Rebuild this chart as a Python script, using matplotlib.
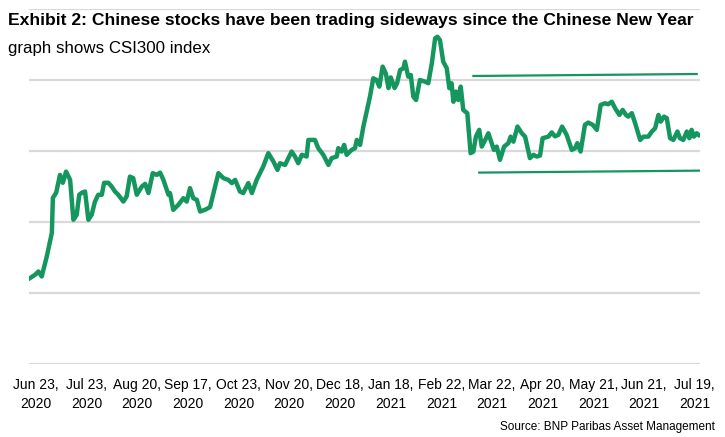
import matplotlib
matplotlib.use("Agg")
import matplotlib.pyplot as plt
from matplotlib import font_manager as fm
import numpy as np

# ---- data ----
# trading-day index since Jun 23, 2020 and CSI300 level
days = [0, 2.0, 3.3, 4.6, 6.6, 8.6, 9.0, 10.3, 11.8, 12.9, 14.2, 15.8, 17.1, 18.4, 19.4,
        20.4, 21.7, 23.0, 24.3, 25.6, 26.9, 28.3, 29.2, 30.9, 32.2, 33.5, 34.8, 36.8,
        38.1, 39.4, 40.7, 42.1, 44.1, 45.4, 46.7, 48.4, 50.0, 51.3, 52.6, 54.6, 55.2,
        56.5, 58.5, 60.5, 61.8, 63.1, 64.4, 65.8, 67.1, 69.0, 71.0, 74.3, 76.3, 78.2,
        79.6, 80.9, 82.8, 84.1, 86.1, 87.5, 89.4, 92.0, 94.0, 96.0, 97.6, 98.6, 100.6,
        103.2, 104.5, 105.8, 107.2, 109.1, 109.8, 112.4, 113.7, 115.7, 117.7, 119.0,
        121.0, 121.6, 122.9, 123.9, 124.9, 126.9, 128.2, 128.9, 130.2, 131.5, 132.8,
        134.1, 135.4, 136.7, 137.8, 139.1, 140.4, 141.4, 142.3, 143.8, 144.8, 146.0,
        147.3, 147.9, 149.2, 150.2, 151.2, 152.3, 153.8, 155.8, 157.1, 158.5, 159.8,
        160.7, 161.7, 163.0, 164.4, 165.4, 166.3, 167.0, 168.0, 168.9, 169.9, 170.9,
        172.5, 173.8, 174.9, 175.9, 177.2, 178.2, 179.9, 180.8, 182.1, 183.0, 184.1,
        185.4, 187.0, 188.7, 189.6, 190.7, 192.3, 194.0, 195.3, 197.2, 198.6, 199.9,
        201.2, 202.2, 204.5, 205.8, 207.1, 208.4, 209.9, 211.7, 213.7, 215.0, 215.9,
        217.2, 218.9, 220.2, 222.0, 223.6, 225.1, 226.8, 228.1, 229.5, 230.8, 232.5,
        233.8, 235.1, 236.0, 237.4, 238.7, 240.7, 242.0, 243.9, 245.3, 246.6, 247.9,
        248.8, 250.1, 251.2, 252.5, 253.8, 255.4, 256.4, 257.7, 259.1, 260.1, 261.0,
        261.9, 263.0, 263.8]
csi300 = [4103, 4126, 4149, 4114, 4255, 4421, 4667, 4703, 4829, 4773, 4852, 4794, 4513,
          4548, 4689, 4703, 4712, 4513, 4548, 4641, 4689, 4689, 4773, 4773, 4747, 4712,
          4689, 4641, 4677, 4817, 4806, 4689, 4747, 4766, 4701, 4841, 4829, 4845, 4794,
          4689, 4701, 4583, 4618, 4665, 4641, 4736, 4665, 4653, 4571, 4583, 4602, 4841,
          4806, 4794, 4771, 4794, 4712, 4701, 4771, 4701, 4794, 4888, 4982, 4923, 4864,
          4911, 4899, 4993, 4958, 4911, 4970, 4958, 5075, 5075, 5017, 4970, 4899, 4947,
          4958, 5017, 4993, 5040, 4970, 5005, 5017, 5075, 5040, 5169, 5274, 5380, 5509,
          5497, 5450, 5591, 5540, 5440, 5515, 5440, 5474, 5567, 5579, 5626, 5520, 5532,
          5380, 5356, 5497, 5485, 5474, 5614, 5790, 5801, 5778, 5626, 5579, 5439, 5474,
          5344, 5415, 5356, 5450, 5286, 5263, 4982, 4993, 5098, 5146, 5028, 5087, 5122,
          5052, 5005, 5028, 4935, 5028, 5052, 5098, 5063, 5169, 5122, 5098, 4947, 4970,
          4958, 4965, 5087, 5098, 5128, 5100, 5110, 5169, 5110, 5005, 5017, 5052, 4993,
          5181, 5197, 5181, 5146, 5321, 5333, 5326, 5344, 5298, 5251, 5286, 5251, 5239,
          5263, 5193, 5075, 5098, 5098, 5134, 5157, 5251, 5204, 5239, 5228, 5087, 5075,
          5134, 5087, 5075, 5134, 5087, 5146, 5098, 5122, 5110]

# sideways-range guide lines (start day, end day, level)
upper_days = [174.9, 263.0]
upper_vals = [5525, 5539]
lower_days = [177.2, 265.2]
lower_vals = [4845, 4859]

tick_labels = ["Jun 23,\n2020", "Jul 23,\n2020", "Aug 20,\n2020", "Sep 17,\n2020",
               "Oct 23,\n2020", "Nov 20,\n2020", "Dec 18,\n2020", "Jan 18,\n2021",
               "Feb 22,\n2021", "Mar 22,\n2021", "Apr 20,\n2021", "May 21,\n2021",
               "Jun 21,\n2021", "Jul 19,\n2021"]
grid_levels = [3500, 4000, 4500, 5000, 5500, 6000]

title = "Exhibit 2: Chinese stocks have been trading sideways since the Chinese New Year"
subtitle = "graph shows CSI300 index"
source = "Source: BNP Paribas Asset Management"

# ---- fonts ----
avail = {f.name for f in fm.fontManager.ttflist}
narrow = "Liberation Sans Narrow" if "Liberation Sans Narrow" in avail else "Liberation Sans"
plt.rcParams['font.family'] = [narrow, 'DejaVu Sans']

GREEN = "#15965f"
GRID = "#d9d9d9"

fig = plt.figure(figsize=(7.25, 4.37), dpi=100)
ax = fig.add_axes([29.3 / 725, 1 - 363.7 / 437, (700 - 29.3) / 725, (363.7 - 8.5) / 437])

for g in grid_levels:
    ax.axhline(g, color=GRID, lw=1.6, zorder=1)

ax.plot(days, csi300, color=GREEN, lw=3.2, solid_joinstyle='round', zorder=3)
ax.plot(upper_days, upper_vals, color=GREEN, lw=1.6, zorder=2)
ax.plot(lower_days, lower_vals, color=GREEN, lw=1.6, zorder=2)

ax.set_xlim(-0.3, 264.3)
ax.set_ylim(3500, 6000)
ax.set_yticks([])
ticks = np.arange(len(tick_labels)) * 20 + 2.25
ax.set_xticks(ticks)
ax.set_xticklabels(tick_labels, fontsize=10, linespacing=1.45)
ax.tick_params(axis='x', length=0, pad=10)
for s in ax.spines.values():
    s.set_visible(False)
ax.patch.set_alpha(0)

fig.text(8 / 725, 1 - 21 / 437, title, fontsize=12.6, fontweight='bold', va='center', ha='left')
fig.text(8 / 725, 1 - 49 / 437, subtitle, fontsize=12.2, va='center', ha='left')
fig.text(715 / 725, 1 - 427 / 437, source, fontsize=8.5, va='center', ha='right')

fig.savefig("out.png", dpi=100)
